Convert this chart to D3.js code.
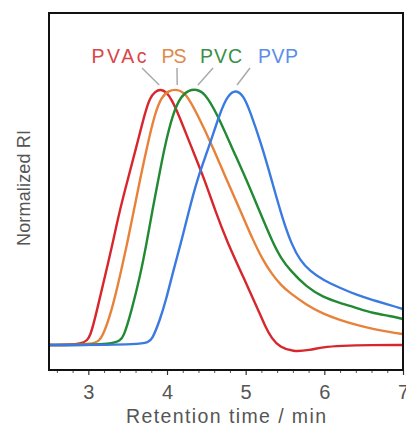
<!DOCTYPE html>
<html><head><meta charset="utf-8">
<script src="https://cdn.jsdelivr.net/npm/d3@7"></script>
<style>html,body{margin:0;padding:0;background:#fff;}svg{display:block;}</style>
</head><body>
<svg id="c" width="406" height="427"></svg>
<script>
const seriesNames = ["PVAc", "PS", "PVC", "PVP"];
const seriesColors = ["#d7262c", "#e8823a", "#218a33", "#3b7be0"];
const labelColors = ["#d9464a", "#e08a4e", "#3a9048", "#5a8ee6"];

const pvacTime = [2.5, 2.95, 3.03, 3.11, 3.21, 3.31, 3.40, 3.50, 3.61, 3.72, 3.78, 3.85, 3.92, 3.99, 4.06, 4.14, 4.31, 4.48, 4.61, 4.77, 4.97, 5.16, 5.245, 5.334, 5.435, 5.6, 5.816, 5.98, 6.2, 6.6, 7.0];
const pvacRI   = [0, 0, 0.035, 0.137, 0.267, 0.40, 0.529, 0.647, 0.776, 0.91, 0.968, 0.995, 1.003, 0.993, 0.962, 0.91, 0.776, 0.647, 0.529, 0.40, 0.267, 0.137, 0.075, 0.024, -0.008, -0.027, -0.02, -0.008, -0.003, 0, 0];

const psTime = [2.5, 3.10, 3.18, 3.30, 3.40, 3.495, 3.58, 3.656, 3.745, 3.847, 3.93, 4.02, 4.13, 4.24, 4.377, 4.584, 4.758, 4.94, 5.092, 5.219, 5.334, 5.448, 5.562, 5.774, 5.982, 6.198, 6.414, 6.617, 6.833, 7.0];
const psRI   = [0, 0, 0.03, 0.137, 0.267, 0.40, 0.529, 0.647, 0.776, 0.91, 0.972, 0.998, 1.003, 0.988, 0.91, 0.776, 0.647, 0.522, 0.412, 0.333, 0.278, 0.235, 0.204, 0.157, 0.122, 0.098, 0.078, 0.063, 0.051, 0.043];

const pvcTime = [2.5, 3.37, 3.45, 3.551, 3.656, 3.741, 3.815, 3.889, 3.968, 4.076, 4.18, 4.28, 4.377, 4.48, 4.631, 4.822, 5.012, 5.17, 5.346, 5.448, 5.562, 5.774, 5.98, 6.198, 6.414, 6.617, 6.833, 7.0];
const pvcRI   = [0, 0, 0.03, 0.137, 0.267, 0.40, 0.529, 0.647, 0.776, 0.91, 0.977, 1.0, 1.003, 0.988, 0.91, 0.776, 0.647, 0.529, 0.40, 0.341, 0.294, 0.227, 0.188, 0.165, 0.145, 0.125, 0.114, 0.102];

const pvpTime = [2.5, 3.74, 3.81, 3.91, 3.987, 4.076, 4.177, 4.266, 4.38, 4.533, 4.673, 4.77, 4.876, 4.978, 5.054, 5.203, 5.33, 5.473, 5.588, 5.689, 5.816, 5.981, 6.198, 6.414, 6.617, 6.833, 7.0];
const pvpRI   = [0, 0, 0.02, 0.098, 0.176, 0.286, 0.40, 0.51, 0.647, 0.776, 0.91, 0.978, 1.003, 0.975, 0.918, 0.784, 0.647, 0.49, 0.392, 0.333, 0.29, 0.255, 0.224, 0.196, 0.176, 0.157, 0.141];

const xTicks = [3, 4, 5, 6, 7];
const xMinorTicks = d3.range(26, 71, 2).map(d => d / 10);
const xTitle = "Retention time / min";
const yTitle = "Normalized RI";
const peakTimes = [3.92, 4.13, 4.377, 4.876];

const allTimes = [pvacTime, psTime, pvcTime, pvpTime];
const allRI = [pvacRI, psRI, pvcRI, pvpRI];

const L = 49, T = 13, R = 403, B = 370;
const x = d3.scaleLinear().domain([2.5, 7]).range([L, R]);
const y = d3.scaleLinear().domain([0, 1]).range([345, 90]);

const svg = d3.select("#c");
svg.append("defs").append("clipPath").attr("id", "clip")
  .append("rect").attr("x", L).attr("y", T).attr("width", R - L).attr("height", B - T);

const line = d3.line().x(d => x(d[0])).y(d => y(d[1])).curve(d3.curveBasis);

const g = svg.append("g").attr("clip-path", "url(#clip)");
allTimes.forEach((ts, i) => {
  const pts = ts.map((t, k) => [t, allRI[i][k]]);
  g.append("path").attr("d", line(pts)).attr("fill", "none")
    .attr("stroke", seriesColors[i]).attr("stroke-width", 2.4)
    .attr("stroke-linejoin", "round").attr("stroke-linecap", "round");
});

const axis = d3.axisBottom(x).tickValues(xTicks).tickSize(5).tickPadding(10).tickFormat(d3.format("d"));
const ax = svg.append("g").attr("transform", `translate(0,${B})`).call(axis);
ax.select(".domain").remove();
ax.selectAll(".tick line").attr("stroke", "#333").attr("stroke-width", 1.2);
ax.selectAll(".tick text").attr("font-family", "Liberation Sans, Arial, sans-serif")
  .attr("font-size", 20).attr("fill", "#555");
const minor = d3.axisBottom(x).tickValues(xMinorTicks.filter(v => !xTicks.includes(v))).tickSize(3).tickFormat("");
const mx = svg.append("g").attr("transform", `translate(0,${B})`).call(minor);
mx.select(".domain").remove();
mx.selectAll(".tick line").attr("stroke", "#555").attr("stroke-width", 1);

svg.append("rect").attr("x", L).attr("y", T).attr("width", R - L).attr("height", B - T)
  .attr("fill", "none").attr("stroke", "#111").attr("stroke-width", 2);

const labelX = [119, 174, 221, 278];
const labelW = [55, 25, 42, 40];
const leaderTop = [[142, 68], [177, 68], [213, 68], [250, 68]];
seriesNames.forEach((n, i) => {
  svg.append("text").attr("x", labelX[i]).attr("y", 63).attr("text-anchor", "middle")
    .attr("font-family", "Liberation Sans, Arial, sans-serif").attr("font-size", 19.5)
    .attr("textLength", labelW[i]).attr("lengthAdjust", "spacing")
    .attr("fill", labelColors[i]).text(n);
  const px = x(peakTimes[i]);
  const dx = (px - leaderTop[i][0]);
  svg.append("line").attr("x1", leaderTop[i][0]).attr("y1", leaderTop[i][1])
    .attr("x2", leaderTop[i][0] + dx * 0.92).attr("y2", y(1) - 5)
    .attr("stroke", "#aaa").attr("stroke-width", 1.5);
});

svg.append("text").attr("x", (L + R) / 2).attr("y", 423).attr("text-anchor", "middle")
  .attr("font-family", "Liberation Sans, Arial, sans-serif").attr("font-size", 19.5)
  .attr("textLength", 200).attr("lengthAdjust", "spacing")
  .attr("fill", "#555").text(xTitle);
svg.append("text").attr("transform", "translate(30,188) rotate(-90)").attr("text-anchor", "middle")
  .attr("font-family", "Liberation Sans, Arial, sans-serif").attr("font-size", 18)
  .attr("textLength", 116).attr("lengthAdjust", "spacing")
  .attr("fill", "#555").text(yTitle);
</script>
</body></html>
